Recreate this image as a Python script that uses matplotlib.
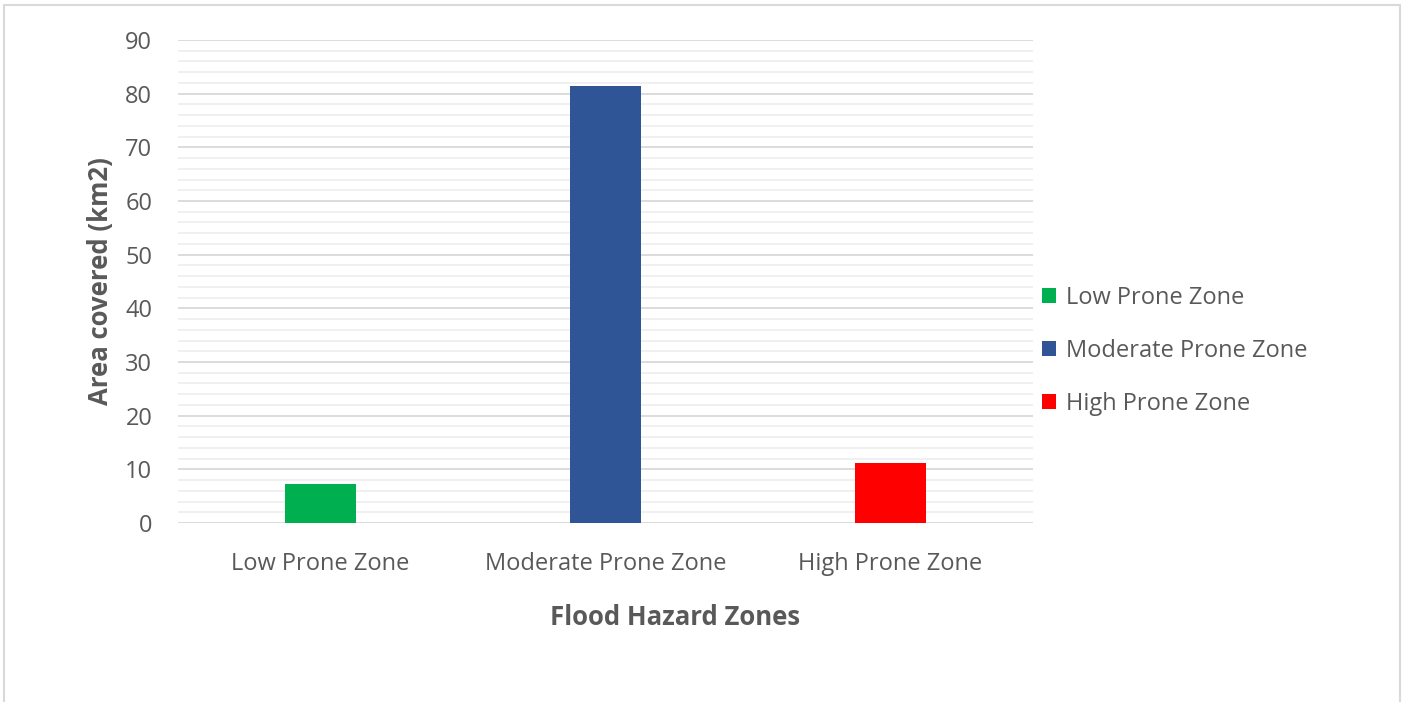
import matplotlib.pyplot as plt
from matplotlib.patches import Rectangle, Patch
from matplotlib.ticker import MultipleLocator

zones = ["Low Prone Zone", "Moderate Prone Zone", "High Prone Zone"]
area_km2 = [7.2, 81.5, 11.1]
bar_colors = ["#00b050", "#2f5597", "#ff0000"]

plt.rcParams["font.family"] = ["Open Sans", "DejaVu Sans"]
text_gray = "#595959"

W, H = 1403, 702
fig = plt.figure(figsize=(W / 100, H / 100), dpi=100)
ax = fig.add_axes([178 / W, 1 - 523 / H, (1033 - 178) / W, (523 - 40) / H])

x = range(len(zones))
ax.bar(x, area_km2, width=0.25, color=bar_colors, zorder=3)

ax.set_xlim(-0.5, 2.5)
ax.set_ylim(0, 90)
ax.yaxis.set_major_locator(MultipleLocator(10))
ax.yaxis.set_minor_locator(MultipleLocator(2))
ax.grid(axis="y", which="major", color="#d9d9d9", linewidth=1.3, zorder=0)
ax.grid(axis="y", which="minor", color="#efefef", linewidth=1.3, zorder=0)
for s in ax.spines.values():
    s.set_visible(False)
ax.tick_params(axis="both", which="both", length=0, labelsize=17, labelcolor=text_gray)
ax.tick_params(axis="y", pad=18.5)
ax.tick_params(axis="x", pad=21)
ax.set_xticks(list(x))
ax.set_xticklabels(zones)

ax.set_ylabel("Area covered (km2)", fontsize=18.5, fontweight="bold", color=text_gray, labelpad=8)
ax.set_xlabel("Flood Hazard Zones", fontsize=18.5, fontweight="bold", color=text_gray, labelpad=20)
ax.xaxis.label.set_x(0.581)

handles = [Patch(facecolor=c, edgecolor="none") for c in bar_colors]
fig.legend(handles, zones, loc="center left", bbox_to_anchor=(1021 / W, 1 - 351 / H),
           frameon=False, fontsize=17, labelcolor=text_gray, handlelength=0.6,
           handleheight=0.6, handletextpad=0.4, labelspacing=1.22)

# light frame around the whole chart
fig.patches.append(Rectangle((4 / W, -0.01), (1400 - 4) / W, 1 - 5 / H + 0.01,
                             transform=fig.transFigure, fill=False,
                             edgecolor="#d9d9d9", linewidth=1.5))

fig.savefig("out.png", dpi=100)
